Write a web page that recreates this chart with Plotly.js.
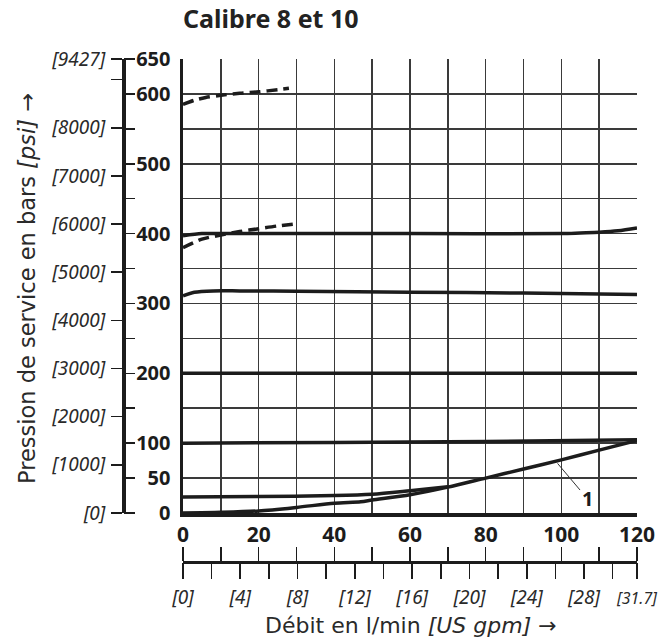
<!DOCTYPE html>
<html>
<head>
<meta charset="utf-8">
<script src="https://cdn.plot.ly/plotly-3.0.1.min.js"></script>
<style>html,body{margin:0;padding:0;background:#fff;}</style>
</head>
<body>
<div id="chart" style="width:670px;height:642px;"></div>
<script>
// ---- data (flow in l/min, pressure in bar) ----
const topDashX = [0, 3, 6, 10, 15, 20, 25, 28];
const topDashY = [585, 591, 595, 598, 601, 603, 606, 608];

const midDashX = [0, 5, 10, 15, 20, 25, 30];
const midDashY = [380, 392, 398, 403, 407, 411, 414];

const c400X = [0, 5, 10, 60, 100, 105, 110, 115, 120];
const c400Y = [397, 400, 400, 400, 400, 401, 402, 404, 408];

const c315X = [0, 3, 8, 15, 30, 60, 90, 120];
const c315Y = [311, 316, 318, 318, 317.5, 316, 315, 313];

const c200X = [0, 120];
const c200Y = [200, 200];

const c100X = [0, 40, 80, 120];
const c100Y = [100, 101, 102.5, 105];

const curve1X = [0, 10, 20, 30, 40, 47, 50, 60, 70, 80, 90, 100, 110, 120];
const curve1Y = [0, 1, 3, 8, 14, 16, 18.5, 26, 37, 50, 63, 76, 90, 104];

const lowFlatX = [0, 20, 40, 50, 60, 70];
const lowFlatY = [23, 23.5, 25, 27, 32, 37.5];

// axis ticks
const barTickVals = [0,50,100,150,200,250,300,350,400,450,500,550,600,650];
const barTickText = ['0','50','100','','200','','300','','400','','500','','600','650'];
const psiTickVals = [0,1000,2000,3000,4000,5000,6000,7000,8000,9000,9427.5];
const psiTickText = ['[0]','[1000]','[2000]','[3000]','[4000]','[5000]','[6000]','[7000]','[8000]','','[9427]'];
const lminTickVals = [0,10,20,30,40,50,60,70,80,90,100,110,120];
const lminTickText = ['0','','20','','40','','60','','80','','100','','120'];
const gpmTickVals = [0,2,4,6,8,10,12,14,16,18,20,22,24,26,28,30,31.7006];
const gpmTickText = ['[0]','','[4]','','[8]','','[12]','','[16]','','[20]','','[24]','','[28]','','<span style="font-size:16px">[31.7]</span>'];

const BAR_TO_PSI = 14.5038;
const LMIN_PER_GPM = 3.78541;

const ink = '#1c1c1c';
const gridC = '#3a3a3a';
const FONT = 'Noto Sans, Open Sans, sans-serif';
const TFONT = 'DejaVu Sans, sans-serif';

function line(x, y, dash) {
  return {
    type: 'scatter', mode: 'lines', x: x, y: y,
    xaxis: 'x', yaxis: 'y', hoverinfo: 'skip', showlegend: false,
    line: {color: ink, width: 3.5, shape: 'spline', smoothing: 0.8, dash: dash || 'solid'}
  };
}
function axisHolder(xa, ya) {
  return {type: 'scatter', mode: 'none', x: [null], y: [null], xaxis: xa, yaxis: ya,
          hoverinfo: 'skip', showlegend: false};
}

const traces = [
  line(topDashX, topDashY, '11px,6px'),
  line(midDashX, midDashY, '11px,6px'),
  line(c400X, c400Y),
  line(c315X, c315Y),
  line(c200X, c200Y),
  line(c100X, c100Y),
  line(curve1X, curve1Y),
  line(lowFlatX, lowFlatY),
  axisHolder('x', 'y2'),
  axisHolder('x', 'y3'),
  axisHolder('x2', 'y'),
  axisHolder('x3', 'y')
];

// geometry
const W = 670, H = 642;
const mL = 60, mR = 33, mT = 59, mB = 60;
const pw = W - mL - mR, ph = H - mT - mB;
const plotLeft = 183, plotBottom = 513;
const xDomStart = (plotLeft - mL) / pw;
const yDomStart = (H - mB - plotBottom) / ph;
const psiAxisPos = (123 - mL) / pw;
const gpmAxisPos = (H - mB - 562) / ph;

const layout = {
  width: W, height: H,
  margin: {l: mL, r: mR, t: mT, b: mB, pad: 0},
  paper_bgcolor: '#fff', plot_bgcolor: '#fff',
  font: {family: FONT, color: ink},
  showlegend: false,
  title: {
    text: '<b>Calibre 8 et 10</b>',
    font: {family: FONT, size: 25, color: '#222'},
    x: plotLeft / W, xanchor: 'left', xref: 'container',
    y: 1 - 19 / H, yanchor: 'middle', yref: 'container'
  },
  xaxis: {
    domain: [xDomStart, 1], range: [0, 120], anchor: 'y',
    tickmode: 'array', tickvals: lminTickVals, ticktext: lminTickText,
    ticks: '', showgrid: true, gridcolor: gridC, gridwidth: 1.6,
    zeroline: false, showline: true, linecolor: ink, linewidth: 3.5,
    tickfont: {family: FONT, size: 21, weight: 'bold', color: ink},
    ticklabelstandoff: 0, fixedrange: true
  },
  yaxis: {
    domain: [yDomStart, 1], range: [0, 650], anchor: 'x',
    tickmode: 'array', tickvals: barTickVals, ticktext: barTickText,
    ticks: '', showgrid: true, gridcolor: gridC, gridwidth: 1.6,
    zeroline: false, showline: true, linecolor: ink, linewidth: 3.5,
    tickfont: {family: FONT, size: 20, weight: 'bold', color: ink},
    ticklabelstandoff: 5, fixedrange: true
  },
  yaxis2: {
    overlaying: 'y', anchor: 'free', position: psiAxisPos, side: 'left',
    range: [0, 650 * BAR_TO_PSI],
    tickmode: 'array', tickvals: psiTickVals, ticktext: psiTickText,
    ticks: 'outside', ticklen: 11, tickwidth: 1.6, tickcolor: ink,
    showgrid: false, zeroline: false, showline: true, linecolor: ink, linewidth: 3.5,
    tickfont: {family: FONT, size: 19, style: 'italic', color: '#2a2a2a'},
    ticklabelstandoff: 2, fixedrange: true
  },
  yaxis3: {
    overlaying: 'y', anchor: 'free', position: psiAxisPos, side: 'right',
    range: [0, 650],
    tickmode: 'array', tickvals: barTickVals,
    ticks: 'outside', ticklen: 11, tickwidth: 1.6, tickcolor: ink,
    showticklabels: false, showgrid: false, zeroline: false, showline: false,
    fixedrange: true
  },
  xaxis2: {
    overlaying: 'x', anchor: 'free', position: gpmAxisPos, side: 'top',
    range: [0, 120],
    tickmode: 'array', tickvals: lminTickVals,
    ticks: 'outside', ticklen: 14, tickwidth: 1.6, tickcolor: ink,
    showticklabels: false, showgrid: false, zeroline: false,
    showline: true, linecolor: ink, linewidth: 3.2, fixedrange: true
  },
  xaxis3: {
    overlaying: 'x', anchor: 'free', position: gpmAxisPos, side: 'bottom',
    range: [0, 120 / LMIN_PER_GPM],
    tickmode: 'array', tickvals: gpmTickVals, ticktext: gpmTickText,
    ticks: 'outside', ticklen: 16, tickwidth: 1.6, tickcolor: ink,
    showgrid: false, zeroline: false, showline: false,
    tickfont: {family: FONT, size: 19, style: 'italic', color: '#2a2a2a'},
    ticklabelstandoff: 2, fixedrange: true
  },
  annotations: [
    {
      text: 'Pression de service en bars <i>[psi]</i> →',
      xref: 'paper', yref: 'paper',
      x: (27 - mL) / pw, y: (H - mB - 289) / ph,
      xanchor: 'center', yanchor: 'middle', textangle: -90, showarrow: false,
      font: {family: TFONT, size: 22.5, color: '#2a2a2a'}
    },
    {
      text: 'Débit en l/min <i>[US gpm]</i> →',
      xref: 'paper', yref: 'paper',
      x: (411 - mL) / pw, y: (H - mB - 625) / ph,
      xanchor: 'center', yanchor: 'middle', showarrow: false,
      font: {family: TFONT, size: 22, color: '#2a2a2a'}
    },
    {
      text: '<b>1</b>', xref: 'x', yref: 'y',
      x: 99, y: 71, axref: 'x', ayref: 'y', ax: 106.8, ay: 21,
      showarrow: true, arrowhead: 0, arrowwidth: 1, arrowcolor: '#333',
      font: {family: FONT, size: 20, color: ink}
    }
  ]
};

Plotly.newPlot('chart', traces, layout, {staticPlot: true, displayModeBar: false});
</script>
</body>
</html>
